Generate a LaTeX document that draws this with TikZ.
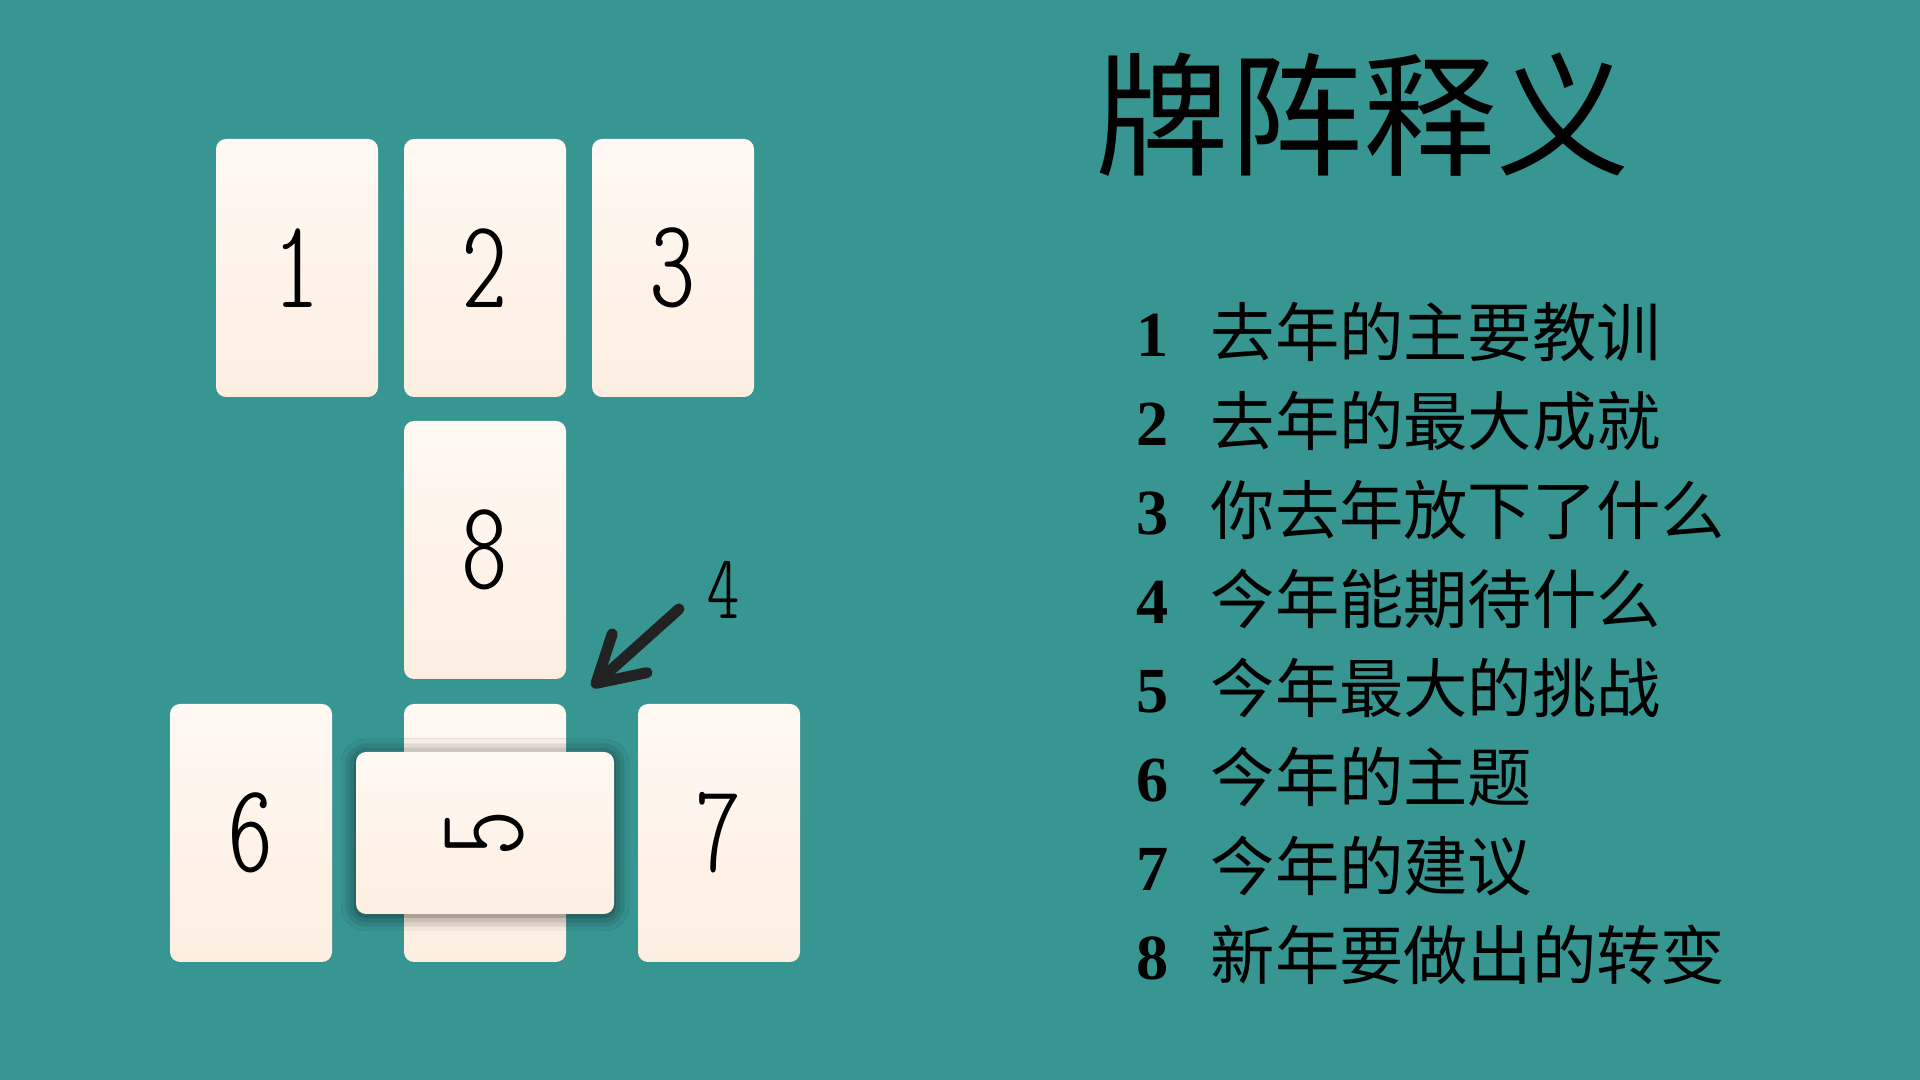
\documentclass[tikz,border=0pt]{standalone}
\usepackage{fontspec}
\usepackage{tikz}
\usetikzlibrary{shapes,arrows.meta}
\usetikzlibrary{positioning}
\usetikzlibrary{shadows.blur}

\newfontfamily\cjk{Noto Sans CJK SC}
\newfontfamily\numfont{Liberation Serif}
\newfontfamily\carddigit{lmmonoltcond10-regular.otf}

\definecolor{tablebg}{RGB}{55,149,146}
\definecolor{cardtop}{RGB}{255,249,243}
\definecolor{cardbot}{RGB}{253,238,225}
\definecolor{inkgray}{RGB}{34,34,34}

\tikzset{
  card/.style={rounded corners=0.1cm, minimum width=1.62cm, minimum height=2.58cm,
    top color=cardtop, bottom color=cardbot, inner sep=0pt, outer sep=0pt, text=black,
    font=\carddigit\fontsize{36}{36}\selectfont},
  crossshadow/.style={blur shadow={shadow blur radius=0.15cm, shadow xshift=0cm,
    shadow yshift=-0.02cm, shadow opacity=65}},
  cardlabel/.style={inner sep=0pt, text=black, font=\carddigit\fontsize{26}{26}\selectfont},
  titletext/.style={anchor=base, inner sep=0pt, text=black, font=\cjk\fontsize{38}{38}\selectfont},
  listnum/.style={anchor=base, inner sep=0pt, text=black, font=\numfont\bfseries\fontsize{18.3}{18.3}\selectfont},
  listitem/.style={anchor=base west, inner sep=0pt, text=black, font=\cjk\fontsize{18.3}{18.3}\selectfont}
}

\begin{document}
\begin{tikzpicture}

\useasboundingbox (0,0) rectangle (19.2,10.8);
\fill[tablebg] (0,0) rectangle (19.2,10.8);

% the spread
\node[card] (c1) at (2.97,8.12) {1};
\node[card,right=0.26cm of c1] (c2) {2};
\node[card,right=0.26cm of c2] (c3) {3};

\node[card,below=0.24cm of c2] (c8) {8};

\node[card,below=0.25cm of c8] (c5back) {};
\node[card,left=0.72cm of c5back] (c6) {6};
\node[card,right=0.72cm of c5back] (c7) {7};
\node[card,rotate=90,crossshadow] (c5) at (c5back) {5};

\node[cardlabel] (four) at (7.23,4.90) {4};
\coordinate (arrowtail) at (6.79,4.71);
\coordinate (arrowtip) at (5.92,3.93);
\draw[inkgray,line width=0.11cm,line cap=round,-{Straight Barb[length=0.45cm,width=0.52cm,round]}] (arrowtail) -- (arrowtip);


% meanings
\node[titletext] (title) at (13.63,9.14) {牌阵释义};

\node[listnum] (n1) at (11.53,7.235) {1};
\node[listitem] (t1) at (12.10,7.235) {去年的主要教训};
\node[listnum] (n2) at (11.53,6.345) {2};
\node[listitem] (t2) at (12.10,6.345) {去年的最大成就};
\node[listnum] (n3) at (11.53,5.455) {3};
\node[listitem] (t3) at (12.10,5.455) {你去年放下了什么};
\node[listnum] (n4) at (11.53,4.565) {4};
\node[listitem] (t4) at (12.10,4.565) {今年能期待什么};
\node[listnum] (n5) at (11.53,3.675) {5};
\node[listitem] (t5) at (12.10,3.675) {今年最大的挑战};
\node[listnum] (n6) at (11.53,2.785) {6};
\node[listitem] (t6) at (12.10,2.785) {今年的主题};
\node[listnum] (n7) at (11.53,1.895) {7};
\node[listitem] (t7) at (12.10,1.895) {今年的建议};
\node[listnum] (n8) at (11.53,1.005) {8};
\node[listitem] (t8) at (12.10,1.005) {新年要做出的转变};

\end{tikzpicture}
\end{document}
